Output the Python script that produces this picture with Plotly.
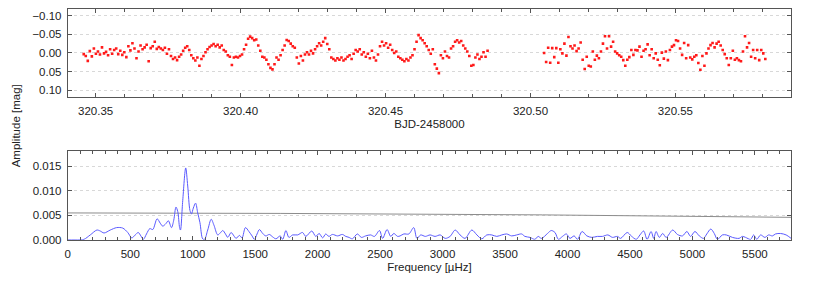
import plotly.graph_objects as go

# ---------------- Light curve (BJD-2458000) ----------------
time_seg1 = [
    320.3459, 320.3466, 320.3473, 320.3480, 320.3487, 320.3494, 320.3501, 320.3508, 320.3515, 320.3522,
    320.3529, 320.3536, 320.3543, 320.3550, 320.3557, 320.3564, 320.3571, 320.3578, 320.3585, 320.3592,
    320.3599, 320.3606, 320.3613, 320.3620, 320.3627, 320.3634, 320.3641, 320.3648, 320.3655, 320.3662,
    320.3669, 320.3676, 320.3683, 320.3690, 320.3697, 320.3704, 320.3711, 320.3718, 320.3725, 320.3732,
    320.3739, 320.3746, 320.3753, 320.3760, 320.3767, 320.3774, 320.3781, 320.3788, 320.3795, 320.3802,
    320.3809, 320.3816, 320.3823, 320.3830, 320.3837, 320.3844, 320.3851, 320.3858, 320.3865, 320.3872,
    320.3879, 320.3886, 320.3893, 320.3900, 320.3907, 320.3914, 320.3921, 320.3928, 320.3935, 320.3942,
    320.3949, 320.3956, 320.3963, 320.3970, 320.3977, 320.3984, 320.3991, 320.3998, 320.4005, 320.4012,
    320.4019, 320.4026, 320.4033, 320.4040, 320.4047, 320.4054, 320.4061, 320.4068, 320.4075, 320.4082,
    320.4089, 320.4096, 320.4103, 320.4110, 320.4117, 320.4124, 320.4131, 320.4138, 320.4145, 320.4152,
    320.4159, 320.4166, 320.4173, 320.4180, 320.4187, 320.4194, 320.4201, 320.4208, 320.4215, 320.4222,
    320.4229, 320.4236, 320.4243, 320.4250, 320.4257, 320.4264, 320.4271, 320.4278, 320.4285, 320.4292,
    320.4299, 320.4306, 320.4313, 320.4320, 320.4327, 320.4334, 320.4341, 320.4348, 320.4355, 320.4362,
    320.4369, 320.4376, 320.4383, 320.4390, 320.4397, 320.4404, 320.4411, 320.4418, 320.4425, 320.4432,
    320.4439, 320.4446, 320.4453, 320.4460, 320.4467, 320.4474, 320.4481, 320.4488, 320.4495, 320.4502,
    320.4509, 320.4516, 320.4523, 320.4530, 320.4537, 320.4544, 320.4551, 320.4558, 320.4565, 320.4572,
    320.4579, 320.4586, 320.4593, 320.4600, 320.4607, 320.4614, 320.4621, 320.4628, 320.4635, 320.4642,
    320.4649, 320.4656, 320.4663, 320.4670, 320.4677, 320.4684, 320.4691, 320.4698, 320.4705, 320.4712,
    320.4719, 320.4726, 320.4733, 320.4740, 320.4747, 320.4754, 320.4761, 320.4768, 320.4775, 320.4782,
    320.4789, 320.4796, 320.4803, 320.4810, 320.4817, 320.4824, 320.4831, 320.4838, 320.4845, 320.4852,
]
mag_seg1 = [
    0.003, 0.008, 0.021, -0.005, 0.009, -0.012, 0.002, -0.004, 0.004, -0.015,
    0.001, -0.003, 0.006, -0.010, 0.002, -0.008, -0.012, 0.003, -0.006, 0.005,
    -0.002, 0.011, -0.018, -0.007, -0.026, -0.012, 0.014, -0.004, -0.020, -0.010,
    -0.015, -0.022, 0.022, -0.013, -0.018, -0.030, -0.011, -0.016,
    -0.012, -0.008, -0.014, 0.002, -0.010,
    0.008, 0.016, 0.012, 0.019, 0.010, 0.004, -0.006,
    -0.014, -0.018, -0.008, 0.006, 0.014, 0.020, 0.012, 0.034, 0.016,
    0.008, -0.002, -0.010, -0.016, -0.020, -0.024, -0.018,
    -0.022, -0.015, -0.020, -0.008, -0.004,
    0.006, 0.010, 0.032, 0.012, 0.010,
    0.012, 0.008, 0.004,
    -0.010, -0.022, -0.038, -0.044, -0.040, -0.034,
    -0.036, -0.020, -0.006, 0.010, 0.012, 0.018, 0.030,
    0.040, 0.044, 0.030, 0.012, 0.018, 0.006, -0.008,
    -0.020, -0.035, -0.032,
    -0.025, -0.018, -0.014,
    0.012, 0.028, 0.008, 0.020, 0.004,
    -0.002, 0.004, -0.006, 0.001, -0.010,
    -0.018, -0.026, -0.020, -0.030, -0.040, -0.024, -0.010,
    0.012, 0.016, 0.020, 0.014,
    0.018, 0.012, 0.020, 0.016, 0.010, 0.006, 0.016,
    0.002, -0.008, -0.004, -0.010, 0.004, -0.002,
    0.010, 0.002, 0.014, -0.006, 0.012, 0.020, 0.004,
    -0.018, -0.030, -0.020, -0.026, -0.014, -0.022,
    -0.008, 0.000, -0.004, 0.010,
    0.014, 0.018, 0.022, 0.016, 0.020, 0.012, 0.006, -0.010,
    -0.030, -0.048, -0.040, -0.034, -0.026,
    -0.018, -0.008, 0.002,
    -0.010, 0.030, 0.042, 0.054, 0.006, 0.014,
    -0.004, 0.008, 0.012, -0.012,
    -0.018, -0.030, -0.034, -0.028, -0.032,
    -0.020, -0.012, -0.004,
    0.008, 0.034, 0.032,
    0.012, 0.004, 0.016, 0.010, -0.002, 0.010, -0.006,
]
time_seg2 = [
    320.5047, 320.5054, 320.5061, 320.5068, 320.5075, 320.5082, 320.5089, 320.5096, 320.5103, 320.5110,
    320.5117, 320.5124, 320.5131, 320.5138, 320.5145, 320.5152, 320.5159, 320.5166, 320.5173, 320.5180,
    320.5187, 320.5194, 320.5201, 320.5208, 320.5215, 320.5222, 320.5229, 320.5236, 320.5243, 320.5250,
    320.5257, 320.5264, 320.5271, 320.5278, 320.5285, 320.5292, 320.5299, 320.5306, 320.5313, 320.5320,
    320.5327, 320.5334, 320.5341, 320.5348, 320.5355, 320.5362, 320.5369, 320.5376, 320.5383, 320.5390,
    320.5397, 320.5404, 320.5411, 320.5418, 320.5425, 320.5432, 320.5439, 320.5446, 320.5453, 320.5460,
    320.5467, 320.5474, 320.5481, 320.5488, 320.5495, 320.5502, 320.5509, 320.5516, 320.5523, 320.5530,
    320.5537, 320.5544, 320.5551, 320.5558, 320.5565, 320.5572, 320.5579, 320.5586, 320.5593, 320.5600,
    320.5607, 320.5614, 320.5621, 320.5628, 320.5635, 320.5642, 320.5649, 320.5656, 320.5663, 320.5670,
    320.5677, 320.5684, 320.5691, 320.5698, 320.5705, 320.5712, 320.5719, 320.5726, 320.5733, 320.5740,
    320.5747, 320.5754, 320.5761, 320.5768, 320.5775, 320.5782, 320.5789, 320.5796, 320.5803, 320.5810,
]
mag_seg2 = [
    0.000, 0.024, -0.014, 0.026, -0.013, 0.011, -0.013, 0.026, -0.010, 0.001,
    -0.025, 0.007, -0.043, -0.018, -0.012, -0.020, -0.005, -0.012, -0.028, 0.018,
    0.043, 0.010, 0.034, 0.036, -0.004, 0.018, 0.007, 0.014, -0.004, -0.025,
    -0.045, -0.012, -0.045, -0.017, -0.030, -0.004, 0.001, 0.006, 0.010, 0.019,
    0.034, 0.018, 0.011, -0.008, 0.005, -0.008, -0.007, -0.017, 0.010, -0.006,
    -0.010, -0.023, 0.006, -0.010, 0.014, 0.001, 0.018, 0.033, -0.001, 0.015,
    -0.004, 0.019, -0.008, -0.017, -0.021, -0.034, -0.032, -0.012, 0.005, -0.027,
    0.014, -0.021, 0.012, 0.017, 0.010, 0.006, 0.027, 0.045, 0.008, 0.034,
    0.001, -0.012, -0.021, -0.027, -0.015, -0.025, -0.030, -0.020, -0.008, 0.003,
    0.014, 0.032, 0.014, -0.006, 0.018, 0.014, 0.019, 0.022, -0.004, -0.045,
    -0.015, -0.027, 0.010, -0.008, 0.014, -0.008, 0.019, -0.008, 0.001, 0.016,
]

# ---------------- Amplitude spectrum ----------------
freq_uhz = [
    0, 50, 100, 130, 180, 233, 260, 290, 340, 391, 440, 480, 512, 540, 564, 585, 605, 630, 657, 680,
    715, 740, 760, 785, 805, 830, 848, 866, 880, 895, 902, 920, 944, 960, 978, 990, 1005, 1023, 1040, 1058,
    1080, 1095, 1120, 1148, 1170, 1200, 1220, 1241, 1262, 1281, 1307, 1330, 1347, 1374, 1395, 1422, 1450, 1475, 1494, 1515,
    1534, 1560, 1585, 1613, 1640, 1666, 1700, 1720, 1746, 1770, 1800, 1840, 1879, 1905, 1953, 1985, 2012, 2040, 2065, 2090,
    2118, 2160, 2198, 2225, 2251, 2278, 2318, 2350, 2384, 2424, 2455, 2495, 2520, 2556, 2585, 2610, 2640, 2660, 2690, 2730,
    2769, 2795, 2825, 2862, 2900, 2940, 2981, 3021, 3060, 3101, 3140, 3180, 3234, 3275, 3314, 3354, 3394, 3434, 3474, 3513,
    3553, 3593, 3633, 3659, 3700, 3739, 3765, 3792, 3840, 3870, 3900, 3927, 3960, 3991, 4020, 4053, 4080, 4117, 4155, 4195,
    4240, 4280, 4323, 4360, 4400, 4425, 4478, 4510, 4550, 4580, 4610, 4637, 4669, 4690, 4709, 4735, 4762, 4790, 4842, 4880,
    4920, 4956, 4985, 5020, 5055, 5089, 5115, 5147, 5175, 5200, 5240, 5271, 5320, 5373, 5400, 5425, 5466, 5490, 5515, 5546,
    5580, 5610, 5640, 5665, 5705, 5750, 5790,
]
amplitude = [
    0.0, 0.0, 0.0, 0.0001, 0.0010, 0.0020, 0.0018, 0.0014, 0.0020, 0.0025, 0.0024, 0.0015, 0.0004, 0.0010, 0.0015, 0.0008, 0.0001, 0.0012, 0.0023, 0.0021,
    0.0043, 0.0034, 0.0028, 0.0033, 0.0039, 0.0025, 0.0040, 0.0067, 0.0058, 0.0025, 0.0020, 0.0080, 0.0147, 0.0110, 0.0060, 0.0053, 0.0065, 0.0075, 0.0055, 0.0035,
    0.0002, 0.0001, 0.0020, 0.0042, 0.0030, 0.0010, 0.0014, 0.0019, 0.0012, 0.0005, 0.0015, 0.0008, 0.0003, 0.0009, 0.0004, 0.0025, 0.0017, 0.0008, 0.0001, 0.0012,
    0.0021, 0.0013, 0.0008, 0.0011, 0.0006, 0.0002, 0.0008, 0.0001, 0.0019, 0.0005, 0.0010, 0.0010, 0.0015, 0.0007, 0.0018, 0.0007, 0.0013, 0.0004, 0.0012, 0.0007,
    0.0011, 0.0008, 0.0011, 0.0007, 0.0005, 0.0002, 0.0012, 0.0005, 0.0008, 0.0010, 0.0007, 0.0019, 0.0003, 0.0021, 0.0007, 0.0013, 0.0007, 0.0008, 0.0012, 0.0012,
    0.0025, 0.0003, 0.0010, 0.0007, 0.0010, 0.0007, 0.0010, 0.0003, 0.0007, 0.0020, 0.0010, 0.0003, 0.0020, 0.0010, 0.0002, 0.0010, 0.0010, 0.0007, 0.0010, 0.0012,
    0.0008, 0.0010, 0.0012, 0.0007, 0.0005, 0.0001, 0.0007, 0.0003, 0.0013, 0.0019, 0.0015, 0.0001, 0.0007, 0.0012, 0.0003, 0.0008, 0.0001, 0.0017, 0.0008, 0.0005,
    0.0007, 0.0007, 0.0010, 0.0005, 0.0007, 0.0003, 0.0015, 0.0008, 0.0001, 0.0010, 0.0018, 0.0001, 0.0017, 0.0003, 0.0017, 0.0005, 0.0013, 0.0005, 0.0020, 0.0011,
    0.0008, 0.0017, 0.0007, 0.0017, 0.0008, 0.0003, 0.0012, 0.0022, 0.0013, 0.0001, 0.0010, 0.0010, 0.0005, 0.0003, 0.0007, 0.0005, 0.0001, 0.0010, 0.0001, 0.0010,
    0.0005, 0.0010, 0.0008, 0.0012, 0.0013, 0.0010, 0.0003,
]
threshold_freq = [0, 1700, 3800, 5790]
threshold_amp = [0.0055, 0.0054, 0.0051, 0.0046]

x_tick_lc = [320.35, 320.40, 320.45, 320.50, 320.55]
x_tick_lc_text = ["320.35", "320.40", "320.45", "320.50", "320.55"]

FONT = "Liberation Sans, Arial, Helvetica, sans-serif"
FS = 11.5
TXT = "#222222"
FRAME = "#555555"
GRID = "#d8d8d8"

fig = go.Figure()
fig.add_trace(go.Scatter(x=time_seg1, y=mag_seg1, mode="markers",
                         marker=dict(color="#ff1a1a", size=2.6, symbol="square", line=dict(width=0)),
                         xaxis="x", yaxis="y", showlegend=False))
fig.add_trace(go.Scatter(x=time_seg2, y=mag_seg2, mode="markers",
                         marker=dict(color="#ff1a1a", size=2.6, symbol="square", line=dict(width=0)),
                         xaxis="x", yaxis="y", showlegend=False))
fig.add_trace(go.Scatter(x=threshold_freq, y=threshold_amp, mode="lines",
                         line=dict(color="#8c8c8c", width=1),
                         xaxis="x2", yaxis="y2", showlegend=False))
fig.add_trace(go.Scatter(x=freq_uhz, y=amplitude, mode="lines",
                         line=dict(color="#5a5aff", width=1, shape="spline", smoothing=0.9),
                         xaxis="x2", yaxis="y2", showlegend=False))

# page body has an 8 px margin on every side: the figure is sized to fit inside it
OFF = 8
W, H = 830 - 2 * OFF, 291 - 2 * OFF
def px(x):
    return (x - OFF) / W
def py(y):
    return 1 - (y - OFF) / H

xdom = [px(65), px(791)]
common_axis = dict(showline=True, linecolor=FRAME, linewidth=1, mirror="ticks",
                   ticks="inside", ticklen=4, tickcolor=FRAME, zeroline=False,
                   tickfont=dict(family=FONT, size=FS, color=TXT))

fig.update_layout(
    width=W, height=H,
    margin=dict(l=0, r=0, t=0, b=0),
    paper_bgcolor="white", plot_bgcolor="white",
    font=dict(family=FONT, size=FS, color=TXT),
    xaxis=dict(domain=xdom, anchor="y", range=[320.3404, 320.5899],
               tickvals=x_tick_lc, ticktext=x_tick_lc_text, showgrid=False,
               ticklabelstandoff=3,
               minor=dict(dtick=0.01, tick0=320.35, ticks="inside", ticklen=3, tickcolor=FRAME, showgrid=False),
               title=dict(text="BJD-2458000", font=dict(family=FONT, size=FS, color=TXT), standoff=4),
               **common_axis),
    yaxis=dict(domain=[py(99), py(9)], anchor="x", range=[0.118, -0.118],
               tickvals=[-0.10, -0.05, 0.0, 0.05, 0.10], tickformat=".2f",
               ticklabelstandoff=3,
               showgrid=True, gridcolor=GRID, griddash="dot", gridwidth=1,
               **common_axis),
    xaxis2=dict(domain=xdom, anchor="y2", range=[0, 5790],
                tick0=0, dtick=500, showgrid=False,
                ticklabelstandoff=3,
                minor=dict(dtick=100, ticks="inside", ticklen=3, tickcolor=FRAME, showgrid=False),
                title=dict(text="Frequency [µHz]", font=dict(family=FONT, size=FS, color=TXT), standoff=4),
                **common_axis),
    yaxis2=dict(domain=[py(245), py(154)], anchor="x2", range=[0, 0.0182],
                tick0=0, dtick=0.005, tickformat=".3f",
                ticklabelstandoff=3,
                showgrid=True, gridcolor=GRID, griddash="dot", gridwidth=1,
                **common_axis),
    annotations=[dict(text="Amplitude [mag]", textangle=-90, xref="paper", yref="paper",
                      x=px(13), y=py(128), showarrow=False,
                      font=dict(family=FONT, size=FS, color=TXT),
                      xanchor="center", yanchor="middle")],
)

fig.write_html("out.html")
